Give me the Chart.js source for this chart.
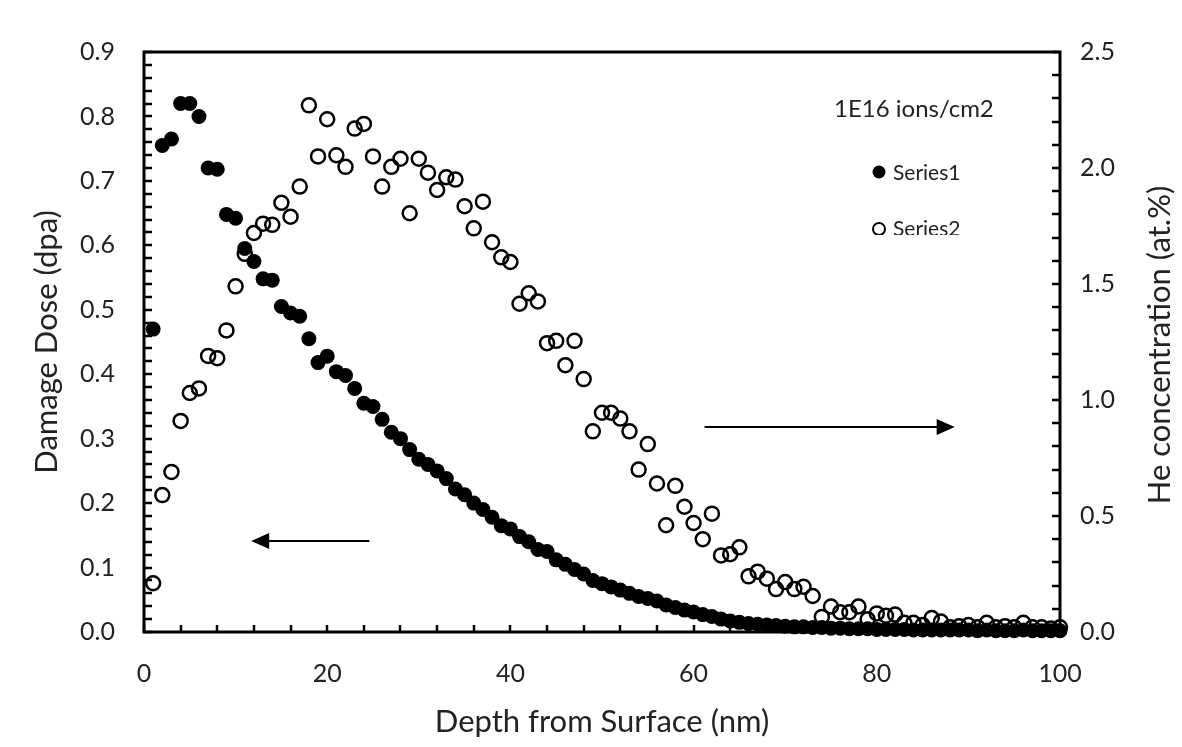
<!DOCTYPE html>
<html>
<head>
<meta charset="utf-8">
<script src="https://cdn.jsdelivr.net/npm/chart.js@4.4.1/dist/chart.umd.min.js"></script>
<style>html,body{margin:0;padding:0;background:#fff}</style>
</head>
<body>
<canvas id="c" width="1182" height="747"></canvas>
<script>
// depth (nm), one point per nm
const depth=[1,2,3,4,5,6,7,8,9,10,11,12,13,14,15,16,17,18,19,20,
  21,22,23,24,25,26,27,28,29,30,31,32,33,34,35,36,37,38,39,40,
  41,42,43,44,45,46,47,48,49,50,51,52,53,54,55,56,57,58,59,60,
  61,62,63,64,65,66,67,68,69,70,71,72,73,74,75,76,77,78,79,80,
  81,82,83,84,85,86,87,88,89,90,91,92,93,94,95,96,97,98,99,100];
// Series1: damage dose (dpa), left axis
const damage=[0.47,0.755,0.765,0.82,0.82,0.80,0.72,0.718,0.648,0.642,
  0.595,0.575,0.548,0.546,0.505,0.495,0.49,0.455,0.418,0.428,
  0.404,0.398,0.378,0.355,0.35,0.33,0.31,0.30,0.283,0.268,
  0.26,0.25,0.238,0.222,0.213,0.2,0.19,0.178,0.165,0.16,
  0.148,0.14,0.128,0.125,0.112,0.105,0.097,0.09,0.08,0.075,
  0.07,0.065,0.06,0.055,0.052,0.048,0.042,0.038,0.034,0.031,
  0.027,0.024,0.02,0.017,0.015,0.013,0.012,0.011,0.01,0.009,
  0.008,0.008,0.007,0.007,0.006,0.006,0.005,0.005,0.005,0.004,
  0.004,0.004,0.004,0.003,0.003,0.003,0.003,0.003,0.003,0.003,
  0.002,0.003,0.002,0.002,0.002,0.003,0.002,0.002,0.002,0.002];
// Series2: He concentration (at.%), right axis
const helium=[0.21,0.59,0.69,0.91,1.03,1.05,1.19,1.18,1.30,1.49,
  1.63,1.72,1.76,1.755,1.85,1.79,1.92,2.27,2.05,2.21,
  2.055,2.005,2.17,2.19,2.05,1.92,2.005,2.04,1.805,2.04,
  1.98,1.905,1.96,1.95,1.835,1.74,1.855,1.68,1.615,1.595,
  1.415,1.46,1.425,1.245,1.255,1.15,1.255,1.09,0.865,0.945,
  0.945,0.92,0.865,0.70,0.81,0.64,0.46,0.63,0.54,0.47,
  0.40,0.51,0.33,0.335,0.365,0.24,0.26,0.23,0.185,0.215,
  0.185,0.195,0.155,0.065,0.11,0.085,0.085,0.11,0.055,0.08,
  0.07,0.075,0.04,0.04,0.03,0.06,0.045,0.02,0.025,0.03,
  0.02,0.04,0.02,0.025,0.02,0.04,0.02,0.02,0.015,0.02];

const seriesNames=['Series1','Series2'];
const noteText='1E16 ions/cm2';
const xTitle='Depth from Surface (nm)';
const yTitle='Damage Dose (dpa)';
const y2Title='He concentration (at.%)';

const FONT='Lato, "Open Sans", sans-serif';
const INK='#222';

const deco={id:'deco',
  beforeDatasetsDraw(ch){
    const {ctx,chartArea:a,scales:{x,y,y2}}=ch;
    ctx.save();
    ctx.strokeStyle='#000';ctx.lineWidth=3;
    ctx.strokeRect(a.left,a.top,a.right-a.left,a.bottom-a.top);
    ctx.lineWidth=2.5;ctx.beginPath();
    // inside ticks: left every 0.02, right every 0.1, bottom every 4 nm
    for(let i=0;i<=45;i++){const p=Math.round(y.getPixelForValue(i*0.02));ctx.moveTo(a.left,p);ctx.lineTo(a.left+8,p);}
    for(let i=0;i<=25;i++){const p=Math.round(y2.getPixelForValue(i*0.1));ctx.moveTo(a.right,p);ctx.lineTo(a.right-8,p);}
    for(let i=0;i<=25;i++){const p=Math.round(x.getPixelForValue(i*4));ctx.moveTo(p,a.bottom);ctx.lineTo(p,a.bottom-7);}
    ctx.stroke();
    ctx.restore();
  },
  afterDatasetsDraw(ch){
    const {ctx,chartArea:a,scales:{x,y,y2}}=ch;
    ctx.save();
    // note
    ctx.fillStyle=INK;ctx.font='24px '+FONT;ctx.textAlign='left';ctx.textBaseline='alphabetic';
    ctx.fillText(noteText,834,117);
    // legend
    ctx.font='21px '+FONT;ctx.textBaseline='middle';
    ctx.beginPath();ctx.arc(879,172,6.5,0,Math.PI*2);ctx.fillStyle='#000';ctx.fill();
    ctx.fillStyle=INK;ctx.fillText(seriesNames[0],893,173);
    ctx.save();ctx.beginPath();ctx.rect(0,0,1182,235);ctx.clip();
    ctx.beginPath();ctx.arc(879,229,6,0,Math.PI*2);ctx.strokeStyle='#000';ctx.lineWidth=2;ctx.stroke();
    ctx.fillStyle=INK;ctx.fillText(seriesNames[1],893,229);
    ctx.restore();
    // arrows
    arrow(ctx,x.getPixelForValue(24.6),x.getPixelForValue(11.7),y.getPixelForValue(0.141));
    arrow(ctx,x.getPixelForValue(61.2),x.getPixelForValue(88.5),y2.getPixelForValue(0.883));
    // right axis title, reads bottom to top
    ctx.translate(1160,345);ctx.rotate(-Math.PI/2);
    ctx.font='31px '+FONT;ctx.fillStyle=INK;ctx.textAlign='center';ctx.textBaseline='middle';
    ctx.fillText(y2Title,0,0);
    ctx.restore();
  }
};
function arrow(ctx,x1,x2,yy){
  const d=x2>x1?1:-1;yy=Math.round(yy);
  ctx.save();ctx.strokeStyle='#000';ctx.fillStyle='#000';ctx.lineWidth=2;
  ctx.beginPath();ctx.moveTo(x1,yy);ctx.lineTo(x2-d*14,yy);ctx.stroke();
  ctx.beginPath();ctx.moveTo(x2,yy);ctx.lineTo(x2-d*18,yy-8);ctx.lineTo(x2-d*18,yy+8);ctx.closePath();ctx.fill();
  ctx.restore();
}

const pts=(ys)=>depth.map((d,i)=>({x:d,y:ys[i]}));

new Chart(document.getElementById('c'),{
  type:'scatter',
  data:{datasets:[
    {label:seriesNames[0],data:pts(damage),yAxisID:'y',order:1,clip:false,
     pointStyle:'circle',pointRadius:7.5,pointHoverRadius:7.5,backgroundColor:'#000',borderColor:'#000',borderWidth:0},
    {label:seriesNames[1],data:pts(helium),yAxisID:'y2',order:0,clip:false,
     pointStyle:'circle',pointRadius:7,pointHoverRadius:7,backgroundColor:'rgba(0,0,0,0)',borderColor:'#000',borderWidth:2.5}
  ]},
  options:{
    responsive:false,animation:false,
    layout:{padding:{top:52,left:0,right:0,bottom:0}},
    plugins:{legend:{display:false},tooltip:{enabled:false}},
    scales:{
      x:{type:'linear',min:0,max:100,
        ticks:{stepSize:20,padding:27,color:INK,font:{family:FONT,size:25}},
        grid:{display:false,drawTicks:false},border:{display:false},
        title:{display:true,text:xTitle,color:INK,font:{family:FONT,size:31},padding:{top:0,bottom:6}},
        afterFit(s){s.height=115;}},
      y:{type:'linear',position:'left',min:0,max:0.9,
        ticks:{stepSize:0.1,padding:29,color:INK,font:{family:FONT,size:25},callback:v=>v.toFixed(1)},
        grid:{display:false,drawTicks:false},border:{display:false},
        title:{display:true,text:yTitle,color:INK,font:{family:FONT,size:31},padding:{top:28,bottom:0}},
        afterFit(s){s.width=144;}},
      y2:{type:'linear',position:'right',min:0,max:2.5,
        ticks:{stepSize:0.5,padding:20,color:INK,font:{family:FONT,size:25},callback:v=>v.toFixed(1)},
        grid:{display:false,drawTicks:false},border:{display:false},
        afterFit(s){s.width=122;}}
    }
  },
  plugins:[deco]
});
</script>
</body>
</html>
